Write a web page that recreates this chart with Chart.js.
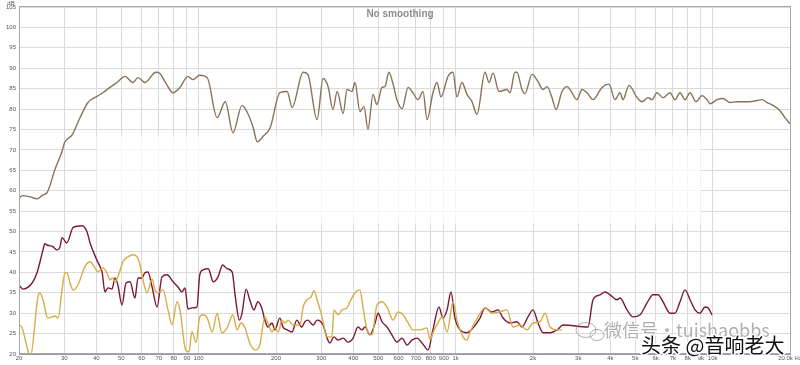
<!DOCTYPE html>
<html>
<head>
<meta charset="utf-8">
<script src="https://cdn.jsdelivr.net/npm/chart.js@4/dist/chart.umd.min.js"></script>
<style>
html,body{margin:0;padding:0;background:#fff;}
canvas{display:block;}
</style>
</head>
<body>
<canvas id="c" width="800" height="365"></canvas>
<script>
// courbes de reponse en frequence
var brownFreq=[20,20.7,22.1,23.5,24.8,25.7,27.6,29.4,30.1,32.2,34.5,37.1,40.2,42.4,45.2,48.5,51.7,55.5,58.1,61.8,68.2,70.7,74,79.5,84.6,90.9,95,101,108,118,127,136,147.5,154,163,169,178,190,207,221,231,255,266,289,305,319,333,346,365,378,395,406,424,440,456,477,494,517,531,550,571,591,619,653,682,714,747,774,816,846,877,934,977,1012,1058,1107,1158,1211,1301,1349,1398,1475,1584,1627,1702,1732,1812,1862,1982,2092,2188,2268,2372,2458,2594,2712,2786,2966,3102,3244,3424,3712,3952,4168,4360,4478,4728,5078,5310,5606,5808,6076,6410,6824,7138,7466,7808,8166,8616,9092,9506,9766,10400,10976,11686,12440,13126,13978,14882,15564,16278,17180,18290,19124,20000]
var brownDb=[58.3,58.8,58.5,58,59,59.5,65.2,69.6,71.8,73.7,77.8,81.6,83.1,84,85.3,86.7,88,86.5,87.7,86.5,89,88.7,86.7,84,85.3,88,87.2,88.3,87.7,77.9,81.8,74.2,80.9,79.4,75.5,72,73.3,75.5,84,84.3,80.4,89,88.5,77.4,87.5,85.5,79.9,84.3,78.9,84.8,84.3,86.5,79.4,80.6,75,83.6,81.1,85.3,85.5,89,86.1,82.3,80.1,85.3,84,82.3,84.3,77.4,84,86.5,83,88,89,83,86.5,83.6,81.8,78.7,89,86.5,88.8,84.3,84.8,84,89,89,84.8,83.8,88.5,86.7,84.8,85.5,82.8,79.9,84.3,85.5,84.8,82.3,84.8,84,82.3,85.3,86.1,82.3,84,82.3,85.8,82.8,81.8,82.8,82.3,84,82.8,84,82.3,84,82.3,84,81.8,83.3,82.3,81.3,82.3,82.6,81.6,81.8,81.8,81.8,82.1,82.3,81.6,80.9,79.6,77.9,76.4]

var redFreq=[20,20.7,22.5,23.5,24.8,25.2,25.7,27.1,28.1,28.9,29.4,30.7,32.5,35.2,36.8,37.8,40.2,41.3,42.1,43.2,44.4,46,47.3,48.5,50.3,52.2,54.1,56.5,58.1,60.2,61.8,63.5,65.9,68.9,72,75.3,79.5,83.1,86.1,88.5,90.9,94.2,98.5,101,104,109,114,119,124,129,135,139,144,147.5,153,158,164,170,176,181,186,193,198,207,213,221,231,241,252,259,266,279,289,305,316,324,336,349,365,381,399,417,432,444,464,486,499,517,541,565,591,619,647,676,707,740,781,816,861,893,926,959,994,1040,1107,1169,1244,1301,1385,1462,1529,1627,1732,1812,1912,2000,2092,2188,2330,2481,2617,3274,3424,3646,3813,3988,4246,4360,4644,4898,5216,5554,5862,6130,6410,6824,7138,7466,7808,8166,8538,8928,9340,9594,9946]
var redDb=[36.9,35.9,37.4,39.9,45.5,47,46.7,46.3,45.5,46.3,48.5,47.2,51,51.4,49.9,47.2,43,41.4,40.1,35.2,36.2,35.9,38.6,36.9,32,37.4,37.7,33.7,38.6,38.6,39.9,40.1,36.4,31.5,38.9,39.4,37.7,36.4,35.2,36.2,31,31.3,31.5,39.4,40.6,40.9,37.7,38.9,41.8,40.9,40.1,33.9,28.3,30,35.9,33.3,30.8,32.8,31.3,28.3,26.6,27.6,25.9,28.8,26.6,25.9,25.4,28.3,26.6,27.9,28.3,27.1,28.3,27.1,23.9,22.7,24.2,23.4,23.9,22.9,23.9,26.6,25.9,26.6,24.7,27.6,30,27.9,26.6,24.7,22.9,23.9,22.2,23.4,23.9,22.7,21,25.9,31.5,28.8,30.8,35.2,28.8,25.9,25.2,26.4,28.8,31.3,30.3,30.8,28.8,27.6,27.9,26.6,29.1,30.8,27.6,25.2,25.2,25.9,27.1,26.6,33.3,34.5,35.2,34.5,33.3,33.7,30.8,29.1,29.6,32.5,34.5,34.5,32.8,30,30,32.8,35.7,33.3,30.8,30,31.5,31.3,29.6]

var yelFreq=[20,20.5,21.5,22.1,23.7,24.1,24.8,25.9,26.9,27.6,28.4,29.4,30.2,30.7,31.6,32.5,33.9,36.1,37.8,39.5,40.6,42.4,44,45.2,46.4,47.3,48.5,50.8,53.1,55.5,57.6,59.1,60.7,63,65.9,67.6,69.5,72.7,76,78.8,82.4,84.6,89,91.7,94.2,97.7,101,104,108,113,118,123,129,136,141,146,151.5,158,166,173,181,186,193,198,204,211,217,223,233,248,255,264,274,281,289,297,305,316,330,336,349,361,378,388,406,424,436,452,473,494,517,541,571,597,624,653,682,727,774,795,816,854,885,926,977,1012,1068,1107,1138,1222,1301,1385,1488,1584,1672,1780,1896,2000,2129,2228,2330,2481,2594]
var yelDb=[27.1,26.6,21.7,19,34,35,33.3,28.8,29.1,29.3,28.8,35.7,39.9,39.9,37.4,35.7,36.9,41.4,42.6,41.1,40.1,41.1,39.9,38.2,38.6,37.7,38.9,42.6,43.8,44.3,43.8,41.8,38.2,35,38.4,35.7,35,35.7,30.8,27.1,32.8,30.8,21,20.5,25.5,22.8,29.1,29.6,28.8,25.4,30,25.2,26.4,29.6,25.9,27.6,26.4,22.7,21,22.2,29.1,27.6,25.4,26.6,25.4,28.3,27.6,28.3,27.1,27.1,31.5,33.3,34,35.5,33.3,30.8,27.9,24.2,24.2,30.8,29.6,30.8,31.3,32.8,35,35.7,31.5,25.9,24.7,32,32.8,31.5,28.3,30.3,29.6,27.6,25.9,25.9,26.4,23.4,25.2,27.6,29.1,25.4,32.8,28.3,24.2,23.4,25.4,29.1,31.3,30,30.3,30.8,26.6,27.1,25.9,27.6,27.9,30,26.6,25.9,25.9]

var xTicks=[20,30,40,50,60,70,80,90,100,200,300,400,500,600,700,800,900,1000,2000,3000,4000,5000,6000,7000,8000,9000,10000,20000]

var color_brown='#8a7258'
var color_red='#7e1733'
var color_yel='#d6ad48'
var grid_color='#dadada'

function pts(f,d){
    return f.map(function(v,i){return {x:v,y:d[i]}})
}

function xLabel(v){
    if(v==20000) return '20.0k Hz'
    if(v>=1000) return (v/1000)+'k'
    return ''+v
}

const deco = {   // cadre, titre, textes et zone blanchie
    id:'deco',
    beforeDatasetsDraw:(chart)=>{
        const {ctx,scales}=chart
        const x=scales.x, y=scales.y
        ctx.save()
        ctx.fillStyle='rgba(255,255,255,0.72)'
        var x0=x.getPixelForValue(40), x1=x.getPixelForValue(9000)
        var y0=y.getPixelForValue(73.5), y1=y.getPixelForValue(52)
        ctx.fillRect(x0,y0,x1-x0,y1-y0)
        ctx.restore()
    },
    afterDraw:(chart)=>{
        const {ctx,chartArea}=chart
        ctx.save()
        ctx.strokeStyle='#a8a8a8'
        ctx.lineWidth=1
        ctx.strokeRect(chartArea.left+0.5,chartArea.top-0.5,chartArea.right-chartArea.left,chartArea.bottom-chartArea.top)
        ctx.fillStyle='#8c8c8c'
        ctx.font='bold 10px Arial'
        ctx.textAlign='center'
        ctx.textBaseline='middle'
        ctx.fillText('No smoothing',400,14)
        ctx.fillStyle='#555'
        ctx.font='6px Arial'
        ctx.fillText('dB',11,3)

        // filigranes
        ctx.strokeStyle='rgba(120,120,120,0.6)'
        ctx.lineWidth=1
        ctx.beginPath(); ctx.ellipse(586,330,10,7.5,0,0,Math.PI*2); ctx.stroke()
        ctx.beginPath(); ctx.ellipse(597,335,7,5.5,0,0,Math.PI*2); ctx.stroke()
        ctx.textAlign='left'
        ctx.textBaseline='alphabetic'
        ctx.font='18px "Noto Sans CJK SC"'
        ctx.lineWidth=2.5
        ctx.strokeStyle='rgba(255,255,255,0.8)'
        ctx.strokeText('微信号·tuishaobbs',604,337)
        ctx.fillStyle='rgba(110,110,110,0.55)'
        ctx.fillText('微信号·tuishaobbs',604,337)
        ctx.font='20px "Noto Sans CJK SC"'
        ctx.lineWidth=3
        ctx.strokeStyle='#fff'
        ctx.strokeText('头条 @音响老大',641,353)
        ctx.fillStyle='#111'
        ctx.fillText('头条 @音响老大',641,353)
        ctx.restore()
    }
}

function lineSet(label,f,d,col){
    return {label:label,data:pts(f,d),borderColor:col,borderWidth:1.4,pointRadius:0,cubicInterpolationMode:'monotone',fill:false}
}

var chart=new Chart(document.getElementById('c'),{
    type:'line',
    data:{datasets:[
        lineSet('yellow',yelFreq,yelDb,color_yel),
        lineSet('red',redFreq,redDb,color_red),
        lineSet('brown',brownFreq,brownDb,color_brown)
    ]},
    options:{
        responsive:false,
        animation:false,
        devicePixelRatio:1,
        layout:{padding:{top:7,right:10,left:0,bottom:0}},
        plugins:{legend:{display:false},tooltip:{enabled:false},title:{display:false}},
        scales:{
            x:{
                type:'logarithmic',min:20,max:20000,
                afterBuildTicks:(s)=>{ s.ticks=xTicks.map(v=>({value:v})) },
                afterFit:(s)=>{ s.height=11; s.paddingLeft=0; s.paddingRight=0 },
                ticks:{autoSkip:false,maxRotation:0,minRotation:0,padding:1,color:'#555',font:{size:6,family:'Arial'},callback:(v)=>xLabel(v)},
                grid:{color:grid_color,drawTicks:false},
                border:{color:'#999'}
            },
            y:{
                min:20,max:105,
                afterFit:(s)=>{ s.width=19; s.paddingTop=0; s.paddingBottom=0 },
                ticks:{stepSize:5,padding:3,color:'#555',font:{size:6,family:'Arial'}},
                grid:{color:grid_color,drawTicks:false},
                border:{color:'#999'}
            }
        }
    },
    plugins:[deco]
})
</script>
</body>
</html>
